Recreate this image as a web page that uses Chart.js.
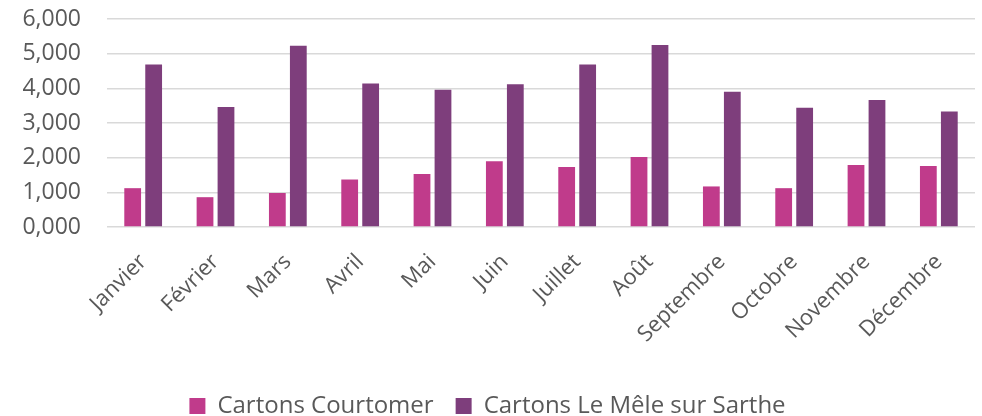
<!DOCTYPE html>
<html>
<head>
<meta charset="utf-8">
<script src="https://cdn.jsdelivr.net/npm/chart.js@4"></script>
<style>
  html, body { margin: 0; padding: 0; background: #fff; }
  #wrap { width: 982px; height: 416px; }
</style>
</head>
<body>
<div id="wrap"><canvas id="chart"></canvas></div>
<script>
var months = ["Janvier", "Février", "Mars", "Avril", "Mai", "Juin", "Juillet", "Août", "Septembre", "Octobre", "Novembre", "Décembre"];
var courtomer = [1.12, 0.86, 0.98, 1.37, 1.53, 1.90, 1.73, 2.02, 1.17, 1.12, 1.79, 1.76];
var leMele = [4.69, 3.46, 5.23, 4.14, 3.96, 4.12, 4.69, 5.25, 3.90, 3.44, 3.66, 3.33];
var seriesNames = ["Cartons Courtomer", "Cartons Le Mêle sur Sarthe"];

var grey = "#595959";

new Chart(document.getElementById("chart"), {
    type: "bar",
    data: {
        labels: months,
        datasets: [
            {
                label: seriesNames[0],
                data: courtomer,
                backgroundColor: "#c03b8b",
                categoryPercentage: 0.58,
                barPercentage: 0.8
            },
            {
                label: seriesNames[1],
                data: leMele,
                backgroundColor: "#7e3e7c",
                categoryPercentage: 0.58,
                barPercentage: 0.8
            }
        ]
    },
    options: {
        responsive: true,
        maintainAspectRatio: false,
        animation: false,
        layout: {
            padding: { left: 0, right: 7, top: 19, bottom: -12 }
        },
        scales: {
            x: {
                grid: { display: false },
                border: { display: false },
                ticks: {
                    color: grey,
                    font: { family: "Open Sans", size: 22 },
                    maxRotation: 45,
                    minRotation: 45,
                    padding: 14
                },
                afterFit: function (scale) { scale.height = 145; }
            },
            y: {
                min: 0,
                max: 6,
                grid: { color: "#d9d9d9", lineWidth: 1.5, drawTicks: false },
                border: { display: false },
                ticks: {
                    stepSize: 1,
                    color: grey,
                    padding: 26,
                    font: { family: "Open Sans", size: 23 },
                    callback: function (v) { return v.toFixed(3).replace(".", ","); }
                },
                afterFit: function (scale) {
                    scale.width = 107;
                    scale.paddingTop = 0;
                }
            }
        },
        plugins: {
            legend: {
                position: "bottom",
                labels: {
                    color: grey,
                    font: { family: "Open Sans", size: 24 },
                    boxWidth: 16,
                    boxHeight: 16,
                    padding: 22
                }
            },
            tooltip: { enabled: false }
        }
    }
});
</script>
</body>
</html>
